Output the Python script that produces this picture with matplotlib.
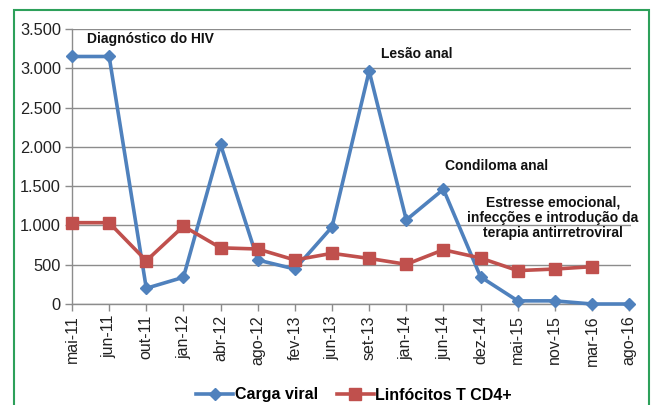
import matplotlib
matplotlib.use("Agg")
import matplotlib.pyplot as plt
from matplotlib.lines import Line2D
from matplotlib.patches import Rectangle

categories = ["mai-11", "jun-11", "out-11", "jan-12", "abr-12", "ago-12", "fev-13", "jun-13",
              "set-13", "jan-14", "jun-14", "dez-14", "mai-15", "nov-15", "mar-16", "ago-16"]
carga_viral = [3150, 3150, 200, 340, 2030, 560, 445, 980, 2965, 1070, 1460, 345, 40, 40, 0, 0]
linfocitos = [1035, 1035, 550, 990, 715, 700, 560, 645, 580, 505, 690, 585, 425, 445, 475]
yticks = [0, 500, 1000, 1500, 2000, 2500, 3000, 3500]
ytick_labels = ["0", "500", "1.000", "1.500", "2.000", "2.500", "3.000", "3.500"]

BLUE = "#4F81BD"
RED = "#C0504D"
GRID = "#8C8C8C"
FONT = "Liberation Sans"

plt.rcParams['font.family'] = [FONT, 'DejaVu Sans']

fig = plt.figure(figsize=(6.51, 4.05), dpi=100)
ax = fig.add_axes([72/651, 1-304/405, (631-72)/651, (304-29)/405])

x = list(range(len(categories)))
ax.plot(x, carga_viral, color=BLUE, lw=2.6, marker="D", ms=6.5, zorder=3)
ax.plot(x[:len(linfocitos)], linfocitos, color=RED, lw=2.6, marker="s", ms=8.5, zorder=4)

ax.set_xlim(0, 15.05)
ax.set_ylim(0, 3500)
ax.set_yticks(yticks)
ax.set_yticklabels(ytick_labels, fontsize=11.8, color="#222222")
ax.set_xticks(x)
ax.set_xticklabels(categories, rotation=90, fontsize=11.5, color="#222222")
ax.yaxis.grid(True, color=GRID, lw=1.0)
ax.set_axisbelow(True)
for s in ["top", "right"]:
    ax.spines[s].set_visible(False)
for s in ["left", "bottom"]:
    ax.spines[s].set_color(GRID)
    ax.spines[s].set_linewidth(1.0)
ax.tick_params(axis="both", color=GRID, length=5, width=1.0)
ax.tick_params(axis="x", pad=3)
ax.tick_params(axis="y", pad=3)
for l in ax.lines:
    l.set_clip_on(False)

tk = dict(fontsize=10, fontweight="bold", color="#111111", transform=fig.transFigure)
fig.text(87/651, 1-39/405, "Diagnóstico do HIV", ha="left", va="center", **tk)
fig.text(381/651, 1-54/405, "Lesão anal", ha="left", va="center", **tk)
fig.text(445/651, 1-166/405, "Condiloma anal", ha="left", va="center", **tk)
fig.text(553/651, 1-218/405, "Estresse emocional,\ninfecções e introdução da\nterapia antirretroviral",
         ha="center", va="center", linespacing=1.1, **tk)

handles = [Line2D([], [], color=BLUE, lw=2.6, marker="D", ms=6),
           Line2D([], [], color=RED, lw=2.6, marker="s", ms=8)]
fig.legend(handles, ["Carga viral", "Linfócitos T CD4+"], loc="center",
           bbox_to_anchor=(354/651, 1-395/405), ncol=2, frameon=False,
           prop={"family": FONT, "weight": "bold", "size": 11.5},
           handlelength=2.3, handletextpad=0.1, columnspacing=1.2)

fig.patches.append(Rectangle((14/651, -0.05), (649-14)/651, 1.05-10/405, transform=fig.transFigure,
                             fill=False, edgecolor="#2DA05A", lw=1.5))

fig.savefig("out.png", dpi=100)
